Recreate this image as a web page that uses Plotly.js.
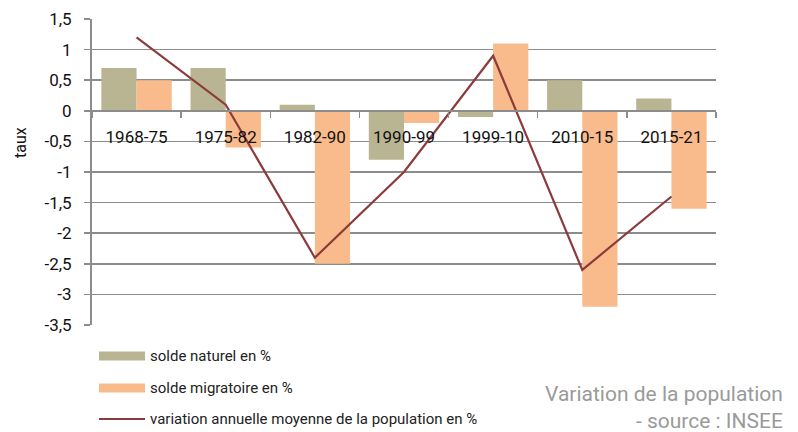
<!DOCTYPE html>
<html>
<head>
<meta charset="utf-8">
<script src="https://cdn.plot.ly/plotly-3.0.1.min.js"></script>
<style>
  html, body { margin: 0; padding: 0; background: #fff; }
  #chart { width: 798px; height: 432px; }
</style>
</head>
<body>
<div id="chart"></div>
<script>
// Data

const periods = ["1968-75", "1975-82", "1982-90", "1990-99", "1999-10", "2010-15", "2015-21"];
const soldeNaturel = [0.7, 0.7, 0.1, -0.8, -0.1, 0.5, 0.2];
const soldeMigratoire = [0.5, -0.6, -2.5, -0.2, 1.1, -3.2, -1.6];
const variationAnnuelle = [1.2, 0.1, -2.4, -1.0, 0.9, -2.6, -1.4];

const seriesNames = [
  "solde naturel en %",
  "solde migratoire en %",
  "variation annuelle moyenne de la population en %",
];

const yTickVals = [1.5, 1, 0.5, 0, -0.5, -1, -1.5, -2, -2.5, -3, -3.5];
const yTickText = ["1,5", "1", "0,5", "0", "-0,5", "-1", "-1,5", "-2", "-2,5", "-3", "-3,5"];

// Global

const W = 798;
const H = 432;
const MARGIN = { l: 92, r: 82, t: 19, b: 107 };
const Y_RANGE = [-3.5, 1.5];

const COLORS = {
  naturel: "#B9B592",
  migratoire: "#F9BB8B",
  variation: "#8C3B3B",
  grid: "#8C8C8C",
};

const FONT = "Roboto, 'DejaVu Sans', sans-serif";

// pixel -> paper coords helpers for the hand-made legend
const pxX = (px) => (px - MARGIN.l) / (W - MARGIN.l - MARGIN.r);
const pxY = (py) => (H - MARGIN.b - py) / (H - MARGIN.t - MARGIN.b);

// Traces

const traces = [
  {
    x: periods,
    y: soldeNaturel,
    name: seriesNames[0],
    type: "bar",
    marker: { color: COLORS.naturel },
  },
  {
    x: periods,
    y: soldeMigratoire,
    name: seriesNames[1],
    type: "bar",
    marker: { color: COLORS.migratoire },
  },
  {
    x: periods,
    y: variationAnnuelle,
    name: seriesNames[2],
    type: "scatter",
    mode: "lines",
    line: { color: COLORS.variation, width: 2.2 },
  },
];

// Legend (drawn by hand, wide swatches like the original)

const legendRows = [
  { y: 356, kind: "bar", color: COLORS.naturel },
  { y: 388, kind: "bar", color: COLORS.migratoire },
  { y: 419, kind: "line", color: COLORS.variation },
];

const legendShapes = legendRows.map((row) => {
  if (row.kind === "bar") {
    return {
      type: "rect",
      xref: "paper",
      yref: "paper",
      x0: pxX(99),
      x1: pxX(145),
      y0: pxY(row.y - 4.5),
      y1: pxY(row.y + 4.5),
      fillcolor: row.color,
      line: { width: 0 },
    };
  }
  return {
    type: "line",
    xref: "paper",
    yref: "paper",
    x0: pxX(99),
    x1: pxX(145),
    y0: pxY(row.y),
    y1: pxY(row.y),
    line: { color: row.color, width: 2.2 },
  };
});

const legendLabels = legendRows.map((row, i) => ({
  xref: "paper",
  yref: "paper",
  x: pxX(148),
  y: pxY(row.y),
  xanchor: "left",
  yanchor: "middle",
  showarrow: false,
  text: seriesNames[i],
  font: { family: FONT, size: 15, color: "#222" },
}));

const sourceNote = {
  xref: "paper",
  yref: "paper",
  x: pxX(785),
  y: pxY(407),
  xanchor: "right",
  yanchor: "middle",
  align: "right",
  showarrow: false,
  text: "Variation de la population<br>- source : INSEE",
  font: { family: FONT, size: 21, color: "#9A9A9A" },
};

// y axis title sits a bit above the plot centre in the original
const yTitle = {
  xref: "paper",
  yref: "paper",
  x: pxX(20),
  y: pxY(143),
  xanchor: "center",
  yanchor: "middle",
  textangle: -90,
  showarrow: false,
  text: "taux",
  font: { family: FONT, size: 16, color: "#111" },
};

// Layout

const layout = {
  width: W,
  height: H,
  margin: MARGIN,
  paper_bgcolor: "#fff",
  plot_bgcolor: "#fff",
  showlegend: false,
  barmode: "group",
  bargap: 0.21,
  bargroupgap: 0,
  font: { family: FONT, color: "#111" },
  xaxis: {
    type: "category",
    anchor: "free",
    position: (0 - Y_RANGE[0]) / (Y_RANGE[1] - Y_RANGE[0]),
    showline: true,
    linecolor: COLORS.grid,
    linewidth: 2,
    showgrid: false,
    ticks: "outside",
    tickson: "boundaries",
    ticklen: 6,
    tickwidth: 1.5,
    tickcolor: COLORS.grid,
    ticklabelstandoff: 11,
    tickfont: { family: FONT, size: 17, color: "#111" },
  },
  yaxis: {
    range: Y_RANGE,
    tickvals: yTickVals,
    ticktext: yTickText,
    showline: true,
    linecolor: COLORS.grid,
    linewidth: 2,
    showgrid: true,
    gridcolor: COLORS.grid,
    gridwidth: 1.5,
    zeroline: false,
    ticks: "outside",
    ticklen: 6,
    tickwidth: 1.5,
    tickcolor: COLORS.grid,
    ticklabelstandoff: 9,
    tickfont: { family: FONT, size: 17, color: "#111" },
  },
  shapes: legendShapes,
  annotations: [...legendLabels, sourceNote, yTitle],
};

// Init

Plotly.newPlot("chart", traces, layout, {
  displayModeBar: false,
  staticPlot: true,
});
</script>
</body>
</html>
